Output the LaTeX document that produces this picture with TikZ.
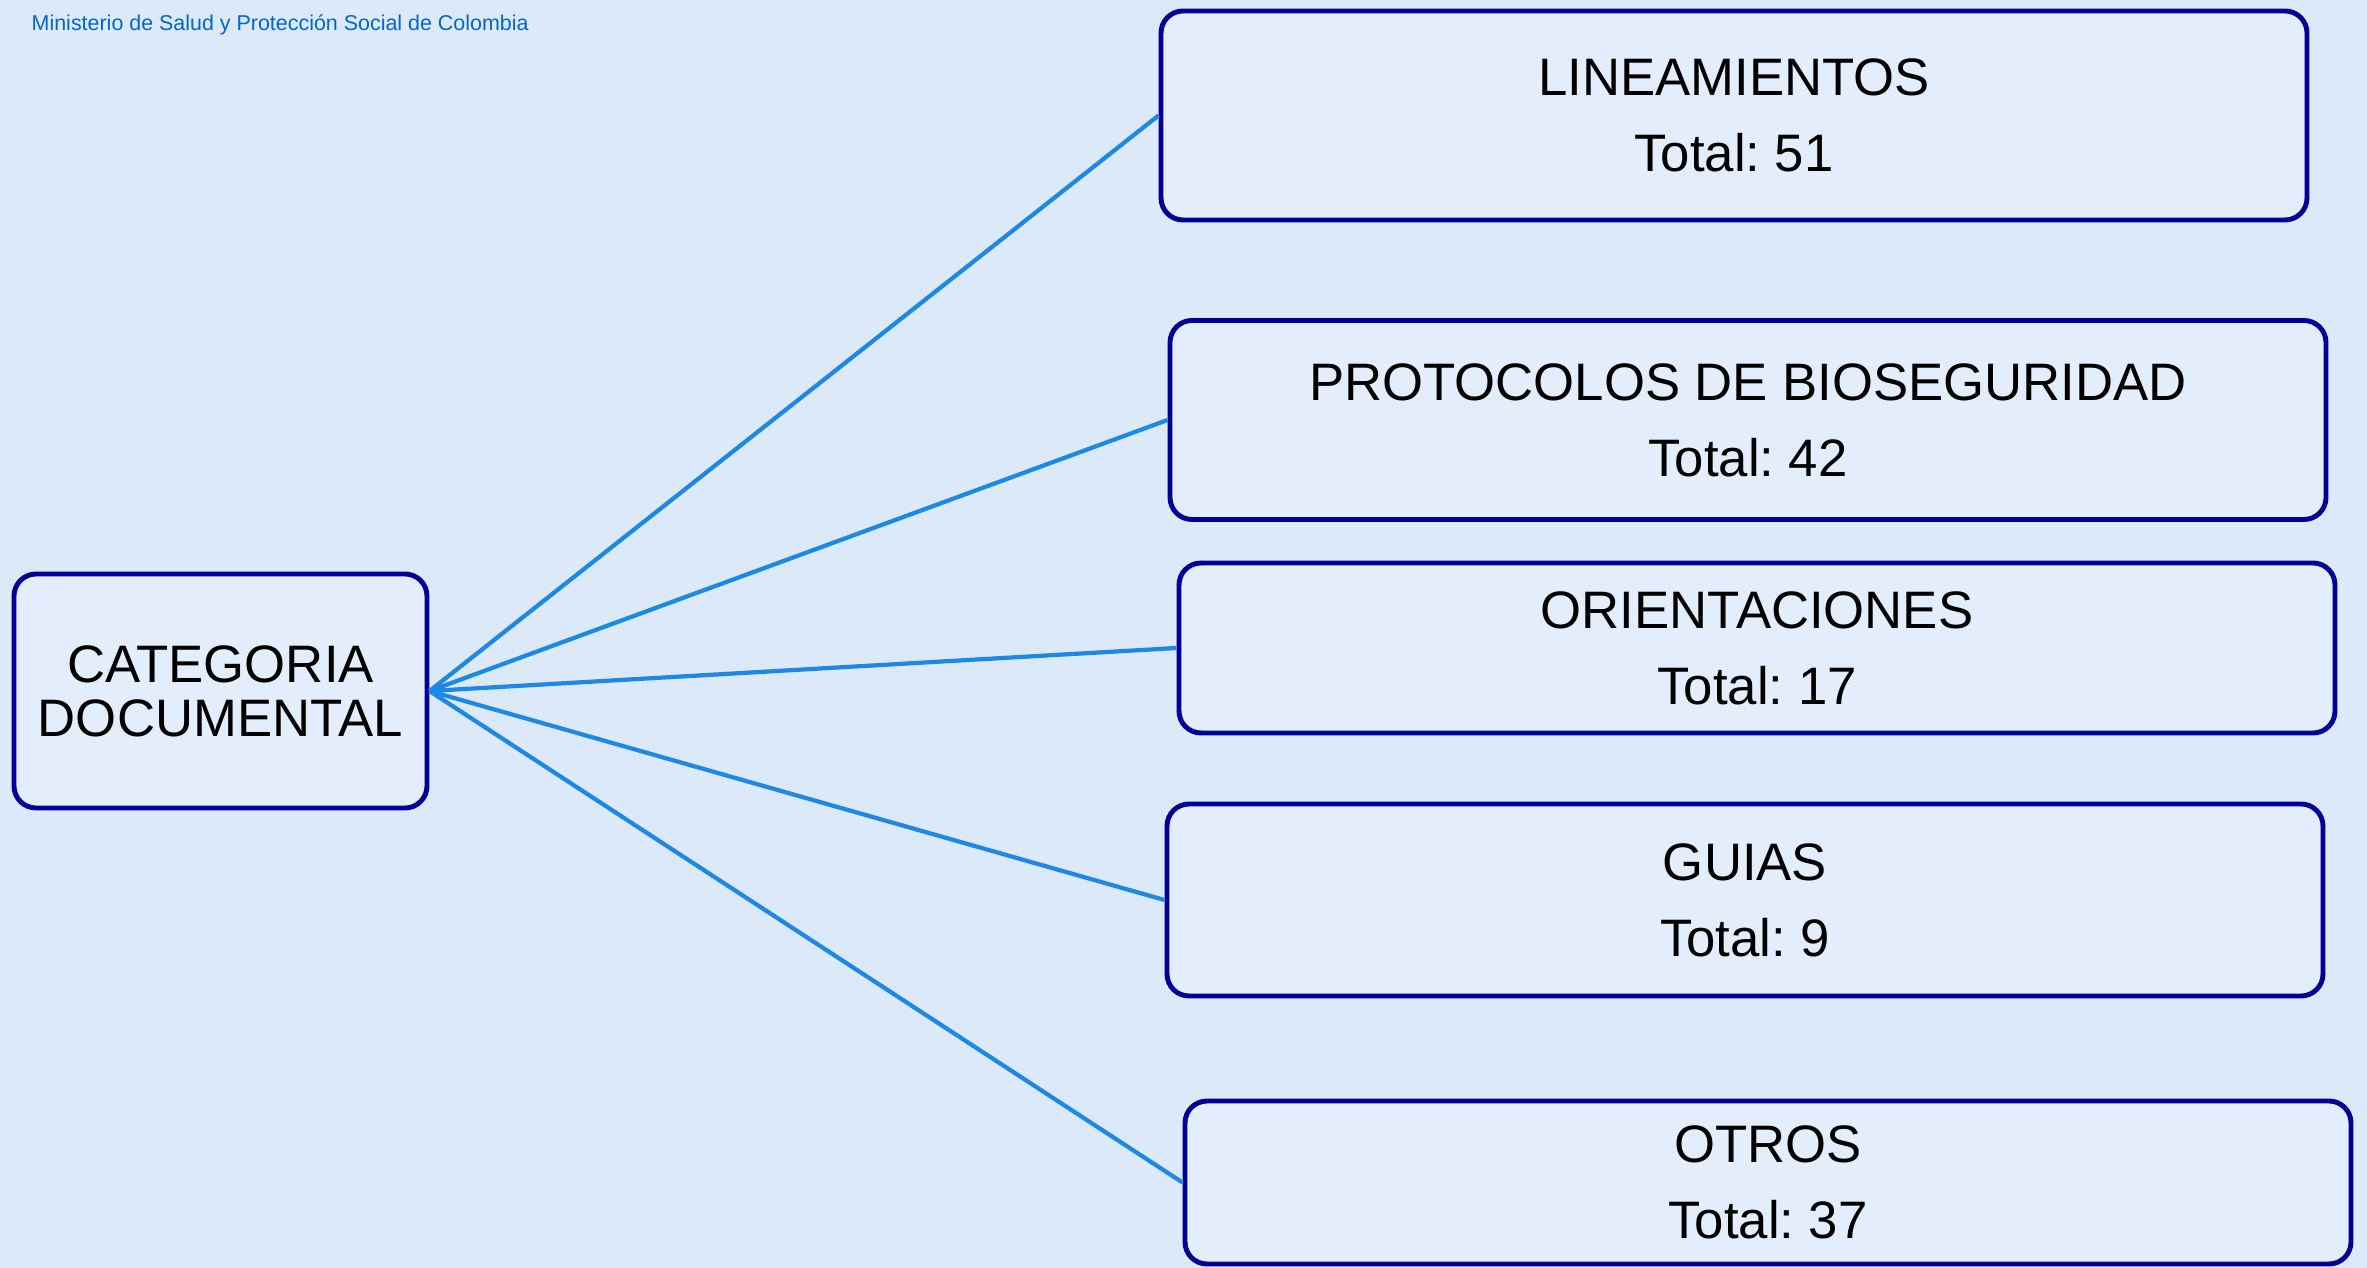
\documentclass[tikz,border=0pt]{standalone}
\usepackage{fontspec}
\setmainfont{Liberation Sans}
\usepackage{tikz}
\frenchspacing

\definecolor{fondo}{RGB}{220,233,249}
\definecolor{relleno}{RGB}{227,237,252}
\definecolor{borde}{RGB}{0,0,150}
\definecolor{linea}{RGB}{30,136,229}
\definecolor{titulo}{RGB}{0,102,204}

\begin{document}
\begin{tikzpicture}[x=1cm,y=-1cm,
  caja/.style={draw=borde,fill=relleno,line width=1.4pt,rounded corners=0.22cm,
    align=center,inner sep=0pt,font=\fontsize{15}{21.6}\selectfont},
  rama/.style={draw=linea,line width=1.2pt}]
\fill[fondo] (0,0) rectangle (23.67,12.68);
\useasboundingbox (0,0) rectangle (23.67,12.68);
\node[anchor=base west,inner sep=0pt,text=titulo,font=\fontsize{6.1}{7}\selectfont] (min) at (0.31,0.31) {Ministerio de Salud y Protección Social de Colombia};
\node[caja,minimum width=4.13cm,minimum height=2.34cm,font=\fontsize{15}{15.4}\selectfont] (cat) at (2.205,6.91) {CATEGORIA\\DOCUMENTAL};
\node[caja,minimum width=11.46cm,minimum height=2.09cm] (lin) at (17.34,1.155) {LINEAMIENTOS\\Total: 51};
\node[caja,minimum width=11.56cm,minimum height=1.99cm] (pro) at (17.48,4.20) {PROTOCOLOS DE BIOSEGURIDAD\\Total: 42};
\node[caja,minimum width=11.56cm,minimum height=1.70cm] (ori) at (17.57,6.48) {ORIENTACIONES\\Total: 17};
\node[caja,minimum width=11.56cm,minimum height=1.92cm] (gui) at (17.45,9.00) {GUIAS\\Total: 9};
\node[caja,minimum width=11.66cm,minimum height=1.63cm] (otr) at (17.68,11.825) {OTROS\\Total: 37};
\draw[rama] (cat.east) -- (lin.west);
\draw[rama] (cat.east) -- (pro.west);
\draw[rama] (cat.east) -- (ori.west);
\draw[rama] (cat.east) -- (gui.west);
\draw[rama] (cat.east) -- (otr.west);
\end{tikzpicture}
\end{document}
